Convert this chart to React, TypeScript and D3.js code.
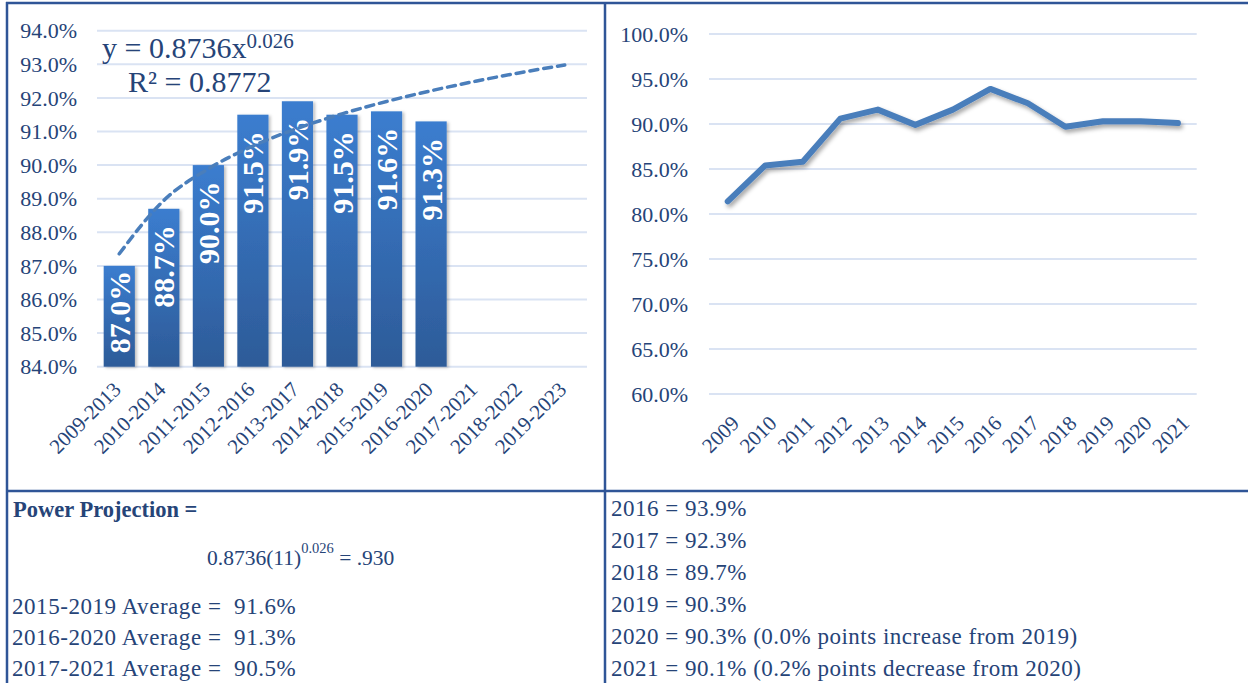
import * as d3 from "d3";

// left chart: five-year averages
const periods = [
  "2009-2013", "2010-2014", "2011-2015", "2012-2016", "2013-2017", "2014-2018",
  "2015-2019", "2016-2020", "2017-2021", "2018-2022", "2019-2023",
];
const periodAverages = [87.0, 88.7, 90.0, 91.5, 91.9, 91.5, 91.6, 91.3];
const averageTicks = [84, 85, 86, 87, 88, 89, 90, 91, 92, 93, 94];
// power trendline y = a * x^b, as printed on the chart
const trendA = 0.8736;
const trendB = 0.026;

// right chart: yearly rate
const years = ["2009", "2010", "2011", "2012", "2013", "2014", "2015", "2016", "2017", "2018", "2019", "2020", "2021"];
const yearlyRates = [81.4, 85.4, 85.8, 90.6, 91.6, 89.9, 91.6, 93.9, 92.3, 89.7, 90.3, 90.3, 90.1];
const rateTicks = [60, 65, 70, 75, 80, 85, 90, 95, 100];

// notes under the charts
const averageNotes = [
  "2015-2019 Average =  91.6%",
  "2016-2020 Average =  91.3%",
  "2017-2021 Average =  90.5%",
];
const yearNotes = [
  "2016 = 93.9%",
  "2017 = 92.3%",
  "2018 = 89.7%",
  "2019 = 90.3%",
  "2020 = 90.3% (0.0% points increase from 2019)",
  "2021 = 90.1% (0.2% points decrease from 2020)",
];

const NAVY = "#264478";
const GRID = "#dae3f3";
const BORDER = "#2f5597";
const LINE = "#4a7ebb";
const FONT = "'Liberation Serif', 'Times New Roman', serif";

export default function App() {
  // left chart scales
  const xb = d3.scaleBand().domain(periods).range([97, 587]).paddingInner(0.3).paddingOuter(0.15);
  const yl = d3.scaleLinear().domain([84, 94]).range([366.7, 30.7]);
  const bandCenter = (p: string) => (xb(p) ?? 0) + xb.bandwidth() / 2;

  const trendPts = periods.map((p, i) => [bandCenter(p), yl(trendA * Math.pow(i + 1, trendB) * 100)] as [number, number]);
  const trendPath = d3.line().curve(d3.curveMonotoneX)(trendPts) ?? "";

  // right chart scales
  const xp = d3.scalePoint().domain(years).range([709, 1196.7]).padding(0.5);
  const yr = d3.scaleLinear().domain([60, 100]).range([394, 34]);
  const ratePath = d3
    .line<number>()
    .x((_, i) => xp(years[i]) ?? 0)
    .y((d) => yr(d))(yearlyRates) ?? "";

  const labelLen = 83;

  return (
    <svg
      width={1248}
      height={683}
      style={{ position: "absolute", left: 0, top: 0, background: "#fff", fontFamily: FONT }}
    >
      <defs>
        <linearGradient id="barGrad" x1="0" y1="0" x2="0" y2="1">
          <stop offset="0%" stopColor="#3b7dcf" />
          <stop offset="100%" stopColor="#2d5b98" />
        </linearGradient>
        <filter id="barShadow" x="-20%" y="-10%" width="140%" height="120%">
          <feDropShadow dx="2" dy="1" stdDeviation="1.5" floodColor="#000" floodOpacity="0.25" />
        </filter>
        <filter id="lineShadow" x="-10%" y="-30%" width="120%" height="160%">
          <feDropShadow dx="2" dy="3" stdDeviation="2" floodColor="#000" floodOpacity="0.35" />
        </filter>
      </defs>

      {/* left chart grid */}
      {averageTicks.map((t) => (
        <g key={"lg" + t}>
          <line x1={97} x2={587} y1={yl(t)} y2={yl(t)} stroke={GRID} strokeWidth={2} />
          <text x={77} y={yl(t)} dy="0.35em" textAnchor="end" fontSize={22} fill={NAVY}>
            {t.toFixed(1)}%
          </text>
        </g>
      ))}

      {/* bars */}
      {periodAverages.map((v, i) => {
        const p = periods[i];
        const cx = bandCenter(p);
        const endY = Math.min(yl(v) + 16.5, yl(84) - 13 - labelLen);
        return (
          <g key={p}>
            <rect
              x={xb(p)}
              y={yl(v)}
              width={xb.bandwidth()}
              height={yl(84) - yl(v)}
              fill="url(#barGrad)"
              filter="url(#barShadow)"
            />
            <text
              transform={`translate(${cx},${endY}) rotate(-90)`}
              textAnchor="end"
              dy="0.35em"
              fontSize={30}
              fontWeight="bold"
              fill="#fff"
            >
              {v.toFixed(1)}%
            </text>
          </g>
        );
      })}

      {/* trendline */}
      <path d={trendPath} fill="none" stroke={LINE} strokeWidth={3.5} strokeDasharray="8 6" strokeLinecap="round" />

      {/* equation */}
      <text x={102} y={58} fontSize={30} fill={NAVY}>
        y = 0.8736x
        <tspan fontSize={21} dy={-10}>0.026</tspan>
      </text>
      <text x={128} y={92} fontSize={30} fill={NAVY}>
        R² = 0.8772
      </text>

      {/* left x labels */}
      {periods.map((p) => (
        <text
          key={"lx" + p}
          transform={`translate(${bandCenter(p) + 3},${yl(84) + 24}) rotate(-45)`}
          textAnchor="end"
          fontSize={21}
          fill={NAVY}
        >
          {p}
        </text>
      ))}

      {/* right chart grid */}
      {rateTicks.map((t) => (
        <g key={"rg" + t}>
          <line x1={709} x2={1196.7} y1={yr(t)} y2={yr(t)} stroke={GRID} strokeWidth={2} />
          <text x={688} y={yr(t)} dy="0.35em" textAnchor="end" fontSize={22} fill={NAVY}>
            {t.toFixed(1)}%
          </text>
        </g>
      ))}
      <path
        d={ratePath}
        fill="none"
        stroke={LINE}
        strokeWidth={6}
        strokeLinejoin="round"
        strokeLinecap="round"
        filter="url(#lineShadow)"
      />
      {years.map((yv) => (
        <text
          key={"rx" + yv}
          transform={`translate(${(xp(yv) ?? 0) + 2},${yr(60) + 20}) rotate(-45)`}
          textAnchor="end"
          dy="0.71em"
          fontSize={21}
          fill={NAVY}
        >
          {yv}
        </text>
      ))}

      {/* notes */}
      <text x={13} y={517} fontSize={22.5} fontWeight="bold" fill={NAVY}>
        Power Projection =
      </text>
      <text x={207} y={565} fontSize={21.5} fill={NAVY}>
        0.8736(11)
        <tspan fontSize={14.5} dy={-12}>0.026</tspan>
        <tspan dy={12}> = .930</tspan>
      </text>
      {averageNotes.map((n, i) => (
        <text
          key={n}
          x={12}
          y={614 + i * 31}
          fontSize={23}
          letterSpacing={0.55}
          fill={NAVY}
          style={{ whiteSpace: "pre" }}
        >
          {n}
        </text>
      ))}
      {yearNotes.map((n, i) => (
        <text key={n} x={611} y={516 + i * 32} fontSize={23} letterSpacing={0.5} fill={NAVY}>
          {n}
        </text>
      ))}

      {/* table borders */}
      <g stroke={BORDER} strokeWidth={2.5}>
        <line x1={6} x2={1248} y1={3} y2={3} />
        <line x1={7} x2={7} y1={2} y2={683} />
        <line x1={605} x2={605} y1={2} y2={683} />
        <line x1={6} x2={1248} y1={491} y2={491} />
      </g>
    </svg>
  );
}
